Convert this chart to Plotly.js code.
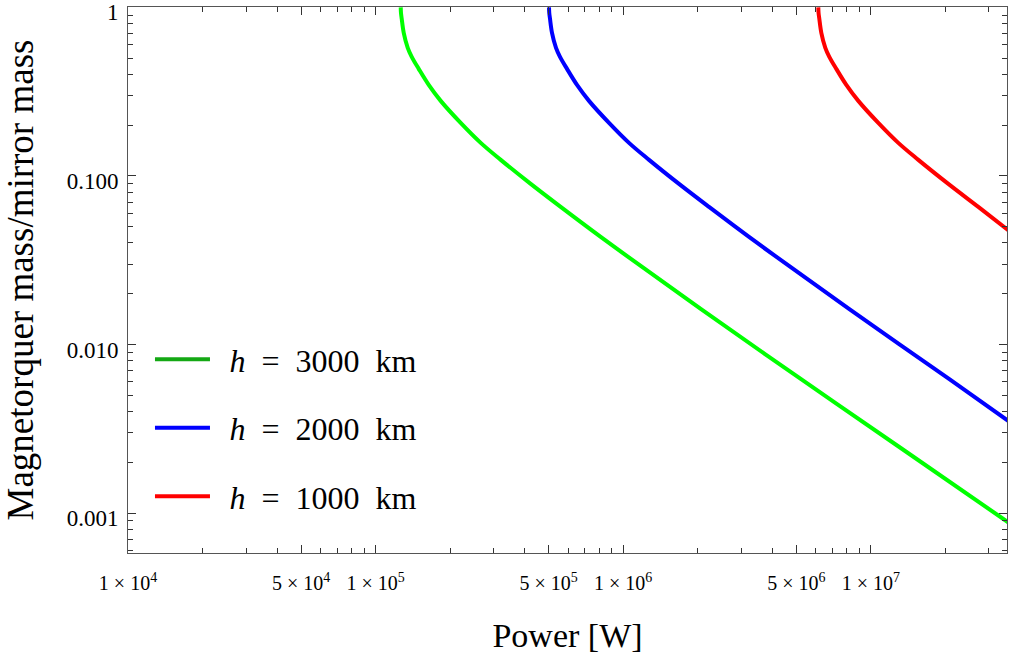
<!DOCTYPE html>
<html>
<head>
<meta charset="utf-8">
<script src="https://cdn.plot.ly/plotly-3.0.1.min.js"></script>
<style>html,body{margin:0;padding:0;background:#fff;}#chart{width:1009px;height:664px;}</style>
</head>
<body>
<div id="chart"></div>
<script>
// Power [W] and magnetorquer/mirror mass ratio
const power3000 = [1.2632e5, 1.2661e5, 1.2749e5, 1.2989e5, 1.3481e5, 1.3992e5, 1.4932e5, 1.6388e5, 1.8320e5, 2.2062e5, 2.6580e5, 3.2021e5, 4.2309e5, 5.5906e5, 8.1109e5, 1.1768e6, 2.0559e6, 5.2119e6, 1.3208e7, 3.592e7];
const ratio3000 = [1.0, 0.9276, 0.8546, 0.7058, 0.5749, 0.5085, 0.4315, 0.3467, 0.2787, 0.2063, 0.1570, 0.1245, 0.08963, 0.06546, 0.04345, 0.02922, 0.01624, 0.006242, 0.002431, 0.000880];

const power2000 = [5.0156e5, 5.0273e5, 5.0625e5, 5.1575e5, 5.3529e5, 5.5560e5, 5.9301e5, 6.5075e5, 7.2745e5, 8.7633e5, 1.0554e6, 1.2715e6, 1.6802e6, 2.2210e6, 3.2218e6, 4.6735e6, 8.1649e6, 2.0693e7, 3.592e7];
const ratio2000 = [1.0, 0.9276, 0.8546, 0.7058, 0.5749, 0.5085, 0.4315, 0.3467, 0.2787, 0.2063, 0.1570, 0.1245, 0.08963, 0.06546, 0.04345, 0.02922, 0.01624, 0.006242, 0.00352];

const power1000 = [6.1367e6, 6.1510e6, 6.1944e6, 6.3108e6, 6.5500e6, 6.7980e6, 7.2541e6, 7.9624e6, 8.9029e6, 1.0722e7, 1.2912e7, 1.5556e7, 2.0559e7, 2.7174e7, 3.592e7];
const ratio1000 = [1.0, 0.9276, 0.8546, 0.7058, 0.5749, 0.5085, 0.4315, 0.3467, 0.2787, 0.2063, 0.1570, 0.1245, 0.08963, 0.06546, 0.0476];

const seriesNames = ["\u00a0\u2009<i>h</i> \u00a0= \u00a03000 \u00a0km", "\u00a0\u2009<i>h</i> \u00a0= \u00a02000 \u00a0km", "\u00a0\u2009<i>h</i> \u00a0= \u00a01000 \u00a0km"];
const curveColors = ["#00ff00", "#0000ff", "#ff0000"];
const legendColors = ["#14a814", "#0000ff", "#ff0000"];

const xTickVals = [1e4, 5e4, 1e5, 5e5, 1e6, 5e6, 1e7];
const xTickText = ["1 × 10<sup>4</sup>", "5 × 10<sup>4</sup>", "1 × 10<sup>5</sup>", "5 × 10<sup>5</sup>", "1 × 10<sup>6</sup>", "5 × 10<sup>6</sup>", "1 × 10<sup>7</sup>"];
const xMinorVals = [2e4,3e4,4e4,6e4,7e4,8e4,9e4, 2e5,3e5,4e5,6e5,7e5,8e5,9e5, 2e6,3e6,4e6,6e6,7e6,8e6,9e6, 2e7,3e7];
const yTickVals = [1, 0.1, 0.01, 0.001];
const yTickText = ["1", "0.100", "0.010", "0.001"];
const yMinorVals = [0.9,0.8,0.7,0.6,0.5,0.4,0.3,0.2, 0.09,0.08,0.07,0.06,0.05,0.04,0.03,0.02, 0.009,0.008,0.007,0.006,0.005,0.004,0.003,0.002, 0.0009,0.0008,0.0007,0.0006];

const powers = [power3000, power2000, power1000];
const ratios = [ratio3000, ratio2000, ratio1000];

const serif = "Liberation Serif, Times New Roman, serif";
const traces = [];
for (let i = 0; i < 3; i++) {
  traces.push({
    x: powers[i], y: ratios[i], type: "scatter", mode: "lines",
    line: {color: curveColors[i], width: 4, shape: "spline", smoothing: 1},
    showlegend: false, hoverinfo: "skip"
  });
}
for (let i = 0; i < 3; i++) {
  traces.push({
    x: [null], y: [null], type: "scatter", mode: "lines",
    name: seriesNames[i], legendgroup: "g" + i,
    line: {color: legendColors[i], width: 4},
    showlegend: true
  });
}

const axisCommon = {
  type: "log", showgrid: false, zeroline: false,
  showline: true, linecolor: "#555", linewidth: 1, mirror: "ticks",
  ticks: "inside", ticklen: 8, tickcolor: "#333", tickwidth: 1,
  tickmode: "array", ticklabeloverflow: "allow"
};

const layout = {
  width: 1009, height: 664,
  margin: {l: 128, r: 2, t: 7, b: 111},
  paper_bgcolor: "#fff", plot_bgcolor: "#fff",
  showlegend: true,
  xaxis: Object.assign({}, axisCommon, {
    range: [4, 7.55],
    tickvals: xTickVals, ticktext: xTickText,
    tickfont: {family: serif, size: 20, color: "#000"},
    ticklabelstandoff: 12,
    minor: {tickmode: "array", tickvals: xMinorVals, ticks: "inside", ticklen: 5, tickcolor: "#333", tickwidth: 1, showgrid: false},
    title: {text: "Power [W]", font: {family: serif, size: 34, color: "#000"}, standoff: 30}
  }),
  yaxis: Object.assign({}, axisCommon, {
    range: [-3.237, 0.002],
    tickvals: yTickVals, ticktext: yTickText,
    tickfont: {family: serif, size: 23, color: "#000"},
    ticklabelstandoff: 4, ticklabelshift: 5,
    minor: {tickmode: "array", tickvals: yMinorVals, ticks: "inside", ticklen: 5, tickcolor: "#333", tickwidth: 1, showgrid: false},
    title: {text: "Magnetorquer mass/mirror mass", font: {family: serif, size: 37, color: "#000"}, standoff: 22}
  }),
  legend: {
    x: 0.025, y: 0.405, xanchor: "left", yanchor: "top",
    bgcolor: "rgba(0,0,0,0)", borderwidth: 0,
    font: {family: serif, size: 32, color: "#000"},
    tracegroupgap: 24, itemwidth: 55
  }
};

Plotly.newPlot("chart", traces, layout, {displayModeBar: false, staticPlot: true});
</script>
</body>
</html>
